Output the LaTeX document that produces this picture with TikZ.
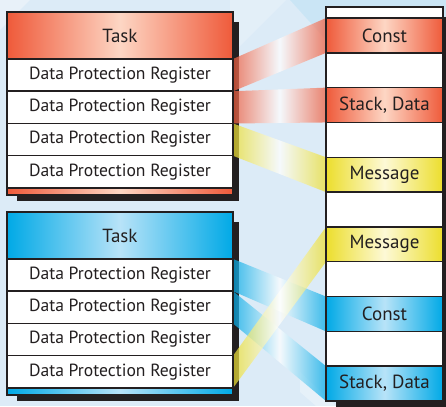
\documentclass[tikz,border=0pt]{standalone}
\usepackage{fontspec}
\setmainfont{PT Sans}
\usepackage{xcolor}
\definecolor{dpred}{RGB}{239, 90, 58}
\definecolor{dppeach}{RGB}{253, 214, 196}
\definecolor{dpblue}{RGB}{0, 169, 230}
\definecolor{dpsky}{RGB}{184, 227, 248}
\definecolor{dpyellow}{RGB}{236, 222, 45}
\definecolor{dpcream}{RGB}{253, 249, 214}
\definecolor{dpbg}{RGB}{220, 235, 247}
\definecolor{dpink}{RGB}{35, 31, 32}
\pgfdeclarelayer{back}
\pgfdeclarelayer{mid}
\pgfsetlayers{back,mid,main}
\tikzset{
  cell/.style={draw=dpink,line width=1.5pt,inner sep=0pt,outer sep=0pt,
    text=dpink,font=\fontsize{19}{21}\selectfont},
  regbox/.style={cell,fill=white,minimum width=226pt,minimum height=32.25pt,
    font=\fontsize{17.6}{20}\selectfont},
  taskred/.style={cell,minimum width=226pt,minimum height=47pt,
    left color=dpred,right color=dpred,middle color=dppeach},
  taskblue/.style={cell,minimum width=226pt,minimum height=47pt,
    left color=dpblue,right color=dpblue,middle color=dpsky},
  memwhite/.style={cell,fill=white,minimum width=117pt,minimum height=34.82pt},
  memred/.style={memwhite,left color=dpred,right color=dpred,middle color=dppeach},
  memblue/.style={memwhite,left color=dpblue,right color=dpblue,middle color=dpsky},
  memyellow/.style={memwhite,left color=dpyellow,right color=dpyellow,middle color=dpcream},
  bandred/.style={fill opacity=.72,left color=dpred,right color=dpred,middle color=white},
  bandblue/.style={fill opacity=.72,left color=dpblue,right color=dpblue,middle color=white},
  bandyellow/.style={fill opacity=.72,left color=dpyellow,right color=dpyellow,middle color=white},
}

\begin{document}
\begin{tikzpicture}[x=1pt,y=-1pt]
\useasboundingbox (0,0) rectangle (446,406);
\clip (0,0) rectangle (446,406);
% upper task
\node[taskred] (t1) at (120,35.5) {Task};
\node[regbox] (t1r1) at (120,75.12) {Data Protection Register};
\node[regbox] (t1r2) at (120,107.37) {Data Protection Register};
\node[regbox] (t1r3) at (120,139.62) {Data Protection Register};
\node[regbox] (t1r4) at (120,171.87) {Data Protection Register};
\node[taskred,minimum height=7pt] (t1end) at (120,191.5) {};
% lower task
\node[taskblue] (t2) at (120,235.5) {Task};
\node[regbox] (t2r1) at (120,275.12) {Data Protection Register};
\node[regbox] (t2r2) at (120,307.37) {Data Protection Register};
\node[regbox] (t2r3) at (120,339.62) {Data Protection Register};
\node[regbox] (t2r4) at (120,371.87) {Data Protection Register};
\node[taskblue,minimum height=7pt] (t2end) at (120,391.5) {};
% memory
\node[memwhite,minimum height=11pt] (m0) at (384.5,12.5) {};
\node[memred] (m1) at (384.5,35.41) {Const};
\node[memwhite] (m2) at (384.5,70.23) {};
\node[memred] (m3) at (384.5,105.05) {Stack, Data};
\node[memwhite] (m4) at (384.5,139.87) {};
\node[memyellow] (m5) at (384.5,174.69) {Message};
\node[memwhite] (m6) at (384.5,209.51) {};
\node[memyellow] (m7) at (384.5,244.33) {Message};
\node[memwhite] (m8) at (384.5,279.15) {};
\node[memblue] (m9) at (384.5,313.97) {Const};
\node[memwhite] (m10) at (384.5,348.79) {};
\node[memblue] (m11) at (384.5,383.61) {Stack, Data};
\begin{pgfonlayer}{back}
\fill[dpbg] (0,0) rectangle (446,406);
\fill[white,opacity=.35] (0,0) -- (30,0) -- (0,30) -- cycle;
\fill[white,opacity=.2] (230,0) -- (286,0) -- (230,56) -- cycle;
\fill[white,opacity=.3] (300,372) -- (300,392) -- (316,406) -- (336,406) -- cycle;
\fill[dpblue,opacity=.08] (290,0) -- (446,0) -- (446,40) -- (326,40) -- cycle;
\fill[dpink] ([shift={(10,10)}]t1.north west) rectangle ([shift={(6,6)}]t1end.south east);
\fill[dpink] ([shift={(10,10)}]t2.north west) rectangle ([shift={(6,6)}]t2end.south east);
\fill[dpink] ([shift={(10,10)}]m0.north west) rectangle ([shift={(7,9)}]m11.south east);
\end{pgfonlayer}
\begin{pgfonlayer}{mid}
\shade[bandred] (t1r1.north east) -- (m1.north west) -- (m1.south west) -- (t1r1.south east) -- cycle;
\shade[bandred] (t1r2.north east) -- (m3.north west) -- (m3.south west) -- (t1r2.south east) -- cycle;
\shade[bandyellow] (t1r3.north east) -- (m5.north west) -- (m5.south west) -- (t1r3.south east) -- cycle;
\shade[bandblue] (t2r1.north east) -- (m9.north west) -- (m9.south west) -- (t2r1.south east) -- cycle;
\shade[bandblue] (t2r2.north east) -- (m11.north west) -- (m11.south west) -- (t2r2.south east) -- cycle;
\shade[bandyellow] (t2r4.north east) -- (m7.north west) -- (m7.south west) -- (t2r4.south east) -- cycle;
\end{pgfonlayer}
\end{tikzpicture}
\end{document}
